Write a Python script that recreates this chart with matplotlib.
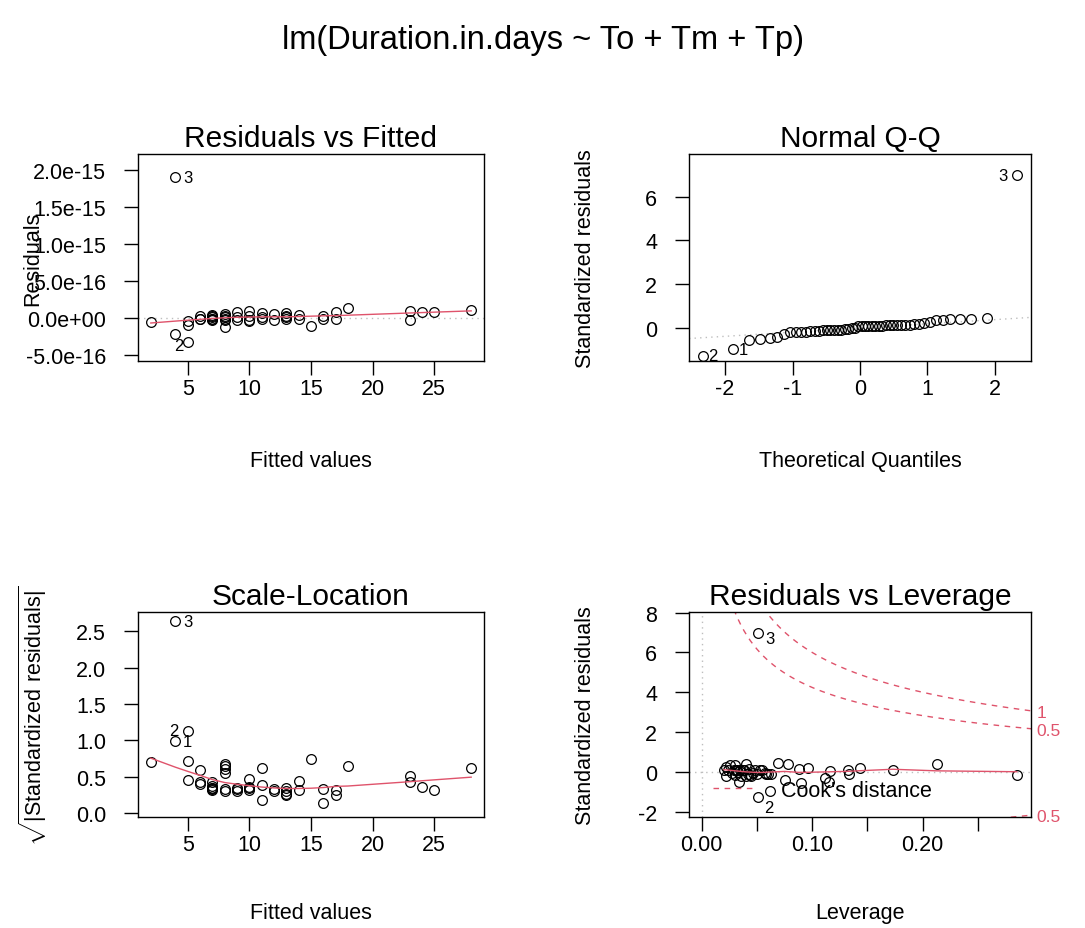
import numpy as np
import matplotlib
matplotlib.use("Agg")
from matplotlib import pyplot as plt
from matplotlib.lines import Line2D
from statistics import NormalDist

plt.rcParams["font.family"] = ["Liberation Sans", "DejaVu Sans"]
plt.rcParams["mathtext.fontset"] = "custom"
plt.rcParams["mathtext.rm"] = "Liberation Sans"
plt.rcParams["axes.unicode_minus"] = False

fitted = [4, 5, 4, 2, 5, 5, 6, 6, 6, 7,
          7, 7, 7, 7, 7, 8, 8, 8, 8, 8,
          8, 9, 9, 9, 10, 10, 10, 10, 11, 11,
          11, 12, 12, 13, 13, 13, 13, 14, 14, 15,
          16, 16, 17, 17, 18, 23, 23, 24, 25, 28]
resid_e16 = [-2.2, -3.2, 19.0, -0.6, -0.9, -0.4, 0.3, -0.1, -0.2, 0.4,
             -0.1, -0.3, 0.2, -0.2, 0.3, 0.5, -1.2, 0.3, -0.3, 0.1,
             -0.2, 0.8, -0.3, 0.2, 0.9, 0.3, -0.3, -0.4, 0.7, 0.2,
             -0.1, 0.5, -0.3, 0.7, 0.3, -0.2, 0.2, 0.4, -0.1, -1.1,
             0.3, -0.1, 0.8, -0.2, 1.4, 0.9, -0.3, 0.8, 0.8, 1.1]
std_resid = [-0.98, -1.28, 6.97, -0.49, -0.52, -0.20, 0.35, -0.16, -0.18, 0.12,
             -0.18, -0.14, 0.10, -0.12, 0.11, 0.46, -0.42, 0.36, -0.30, 0.09,
             -0.11, 0.12, -0.11, 0.09, 0.22, 0.12, -0.10, -0.13, 0.38, 0.15,
             -0.03, 0.09, -0.11, 0.12, 0.07, -0.06, 0.09, 0.19, -0.10, -0.56,
             0.11, -0.02, 0.10, -0.06, 0.41, 0.26, -0.18, 0.13, 0.10, 0.38]
leverage = [0.062, 0.051, 0.051, 0.034, 0.115, 0.040, 0.030, 0.285, 0.045, 0.055,
            0.022, 0.030, 0.038, 0.060, 0.048, 0.069, 0.075, 0.026, 0.112, 0.024,
            0.042, 0.035, 0.058, 0.020, 0.096, 0.032, 0.050, 0.044, 0.213, 0.088,
            0.027, 0.037, 0.063, 0.132, 0.116, 0.046, 0.053, 0.143, 0.133, 0.090,
            0.173, 0.033, 0.029, 0.057, 0.078, 0.022, 0.036, 0.043, 0.031, 0.040]
n_params = 4
cook_levels = [0.5, 1]

resid_ticks = [-5e-16, 0, 5e-16, 1e-15, 1.5e-15, 2e-15]
resid_labels = ["-5.0e-16", "0.0e+00", "5.0e-16", "1.0e-15", "1.5e-15", "2.0e-15"]

RED = "#DF536B"
GREY = "#BEBEBE"
PX = 0.72  # points per pixel at dpi 100
FS = 15.5


def lowess(x, y, f=2/3, iters=3):
    x = np.asarray(x, float)
    y = np.asarray(y, float)
    o = np.argsort(x, kind="stable")
    x, y = x[o], y[o]
    n = len(x)
    ns = max(min(int(np.floor(f * n + 1e-7)), n), 2)
    d = np.abs(x[:, None] - x[None, :])
    h = np.maximum(np.sort(d, axis=1)[:, ns - 1], 1e-12)
    w0 = (1 - np.clip(d / h[:, None], 0, 1) ** 3) ** 3
    rob = np.ones(n)
    fit = np.zeros(n)
    for _ in range(iters + 1):
        for i in range(n):
            w = w0[i] * rob
            sw = w.sum()
            xm = (w * x).sum() / sw
            ym = (w * y).sum() / sw
            sxx = (w * (x - xm) ** 2).sum()
            b = (w * (x - xm) * (y - ym)).sum() / sxx if sxx > 1e-12 else 0.0
            fit[i] = ym + b * (x[i] - xm)
        res = y - fit
        s = np.median(np.abs(res))
        if s == 0:
            break
        u = np.clip(res / (6 * s), -1, 1)
        rob = (1 - u ** 2) ** 2
    return x, fit


def points(ax, x, y):
    ax.plot(x, y, "o", mfc="none", mec="black", ms=7, mew=0.9, ls="none")


def idlab(ax, x, y, txt, dx, dy):
    ax.annotate(txt, (x, y), xytext=(dx * PX, dy * PX), textcoords="offset points",
                fontsize=12, ha="center", va="center")


def style(ax, title, xlab, ylab, ylab_x, xlab_y):
    ax.set_title(title, fontsize=21.5, pad=6)
    ax.set_xlabel(xlab, fontsize=FS)
    ax.set_ylabel(ylab, fontsize=FS)
    ax.xaxis.label.set_va("center")
    ax.yaxis.label.set_va("center")
    ax.xaxis.set_label_coords(0.5, xlab_y)
    ax.yaxis.set_label_coords(ylab_x, 0.5)
    ax.tick_params(axis="both", labelsize=FS, length=10, width=1, direction="out")
    ax.tick_params(axis="x", pad=2)
    ax.tick_params(axis="y", pad=13)
    for s in ax.spines.values():
        s.set_linewidth(1)


fitted = np.array(fitted, float)
resid = np.array(resid_e16) * 1e-16
std_resid = np.array(std_resid)
leverage = np.array(leverage)
n = len(fitted)

fig = plt.figure(figsize=(10.85, 9.29), dpi=100)
W, H = 1085, 929
ax1 = fig.add_axes([138 / W, 1 - 362 / H, 346 / W, 207 / H])
ax2 = fig.add_axes([689 / W, 1 - 362 / H, 342 / W, 207 / H])
ax3 = fig.add_axes([138 / W, 1 - 818 / H, 346 / W, 205 / H])
ax4 = fig.add_axes([689 / W, 1 - 818 / H, 342 / W, 205 / H])

fig.text(0.5, 1 - 40 / H, "lm(Duration.in.days ~ To + Tm + Tp)", ha="center", va="center", fontsize=23.5)

# Residuals vs Fitted
ax1.axhline(0, color=GREY, ls=(0, (1, 3)), lw=1)
points(ax1, fitted, resid)
lx, ly = lowess(fitted, resid)
ax1.plot(lx, ly, color=RED, lw=1)
ax1.set_xticks([5, 10, 15, 20, 25])
ax1.set_yticks(resid_ticks)
ax1.set_yticklabels(resid_labels)
ax1.set_xlim(0.96, 29.04)
ax1.set_ylim(-0.581e-15, 2.216e-15)
style(ax1, "Residuals vs Fitted", "Fitted values", "Residuals", -0.305, -0.483)
idlab(ax1, fitted[2], resid[2], "3", 12, 0)
idlab(ax1, fitted[1], resid[1], "2", -9, -4)

# Normal Q-Q
order = np.argsort(std_resid, kind="stable")
theo = np.array([NormalDist().inv_cdf((i + 0.5) / n) for i in range(n)])
sorted_std = std_resid[order]
q1, q3 = np.percentile(std_resid, [25, 75])
t1, t3 = NormalDist().inv_cdf(0.25), NormalDist().inv_cdf(0.75)
slope = (q3 - q1) / (t3 - t1)
ax2.axline((t1, q1), slope=slope, color=GREY, ls=(0, (1, 3)), lw=1)
points(ax2, theo, sorted_std)
ax2.set_xticks([-2, -1, 0, 1, 2])
ax2.set_yticks([0, 2, 4, 6])
ax2.set_xlim(-2.535, 2.535)
ax2.set_ylim(-1.52, 7.95)
style(ax2, "Normal Q-Q", "Theoretical Quantiles", "Standardized residuals", -0.304, -0.483)
rank = {obs: k for k, obs in enumerate(order)}
idlab(ax2, theo[rank[2]], sorted_std[rank[2]], "3", -14, 0)
idlab(ax2, theo[rank[1]], sorted_std[rank[1]], "2", 10, 0)
idlab(ax2, theo[rank[0]], sorted_std[rank[0]], "1", 10, 0)

# Scale-Location
sl = np.sqrt(np.abs(std_resid))
points(ax3, fitted, sl)
lx, ly = lowess(fitted, sl)
ax3.plot(lx, ly, color=RED, lw=1)
ax3.set_xticks([5, 10, 15, 20, 25])
ax3.set_yticks([0, 0.5, 1.0, 1.5, 2.0, 2.5])
ax3.set_yticklabels(["0.0", "0.5", "1.0", "1.5", "2.0", "2.5"])
ax3.set_xlim(0.96, 29.04)
ax3.set_ylim(-0.055, 2.765)
style(ax3, "Scale-Location", "Fitted values", r"$\sqrt{|\mathrm{Standardized\ residuals}|}$",
      -0.305, -0.468)
idlab(ax3, fitted[2], sl[2], "3", 12, 0)
idlab(ax3, fitted[0], sl[0], "1", 12, 0)
idlab(ax3, fitted[1], sl[1], "2", -14, 0)

# Residuals vs Leverage
ax4.axhline(0, color=GREY, ls=(0, (1, 3)), lw=1)
ax4.axvline(0, color=GREY, ls=(0, (1, 3)), lw=1)
points(ax4, leverage, std_resid)
lx, ly = lowess(leverage, std_resid)
ax4.plot(lx, ly, color=RED, lw=1)
xr = (-0.0115, 0.298)
yr = (-2.26, 8.03)
hh = np.linspace(min(leverage.min(), leverage.max() / 100), xr[1], 101)
for crit in cook_levels:
    cl = np.sqrt(crit * n_params * (1 - hh) / hh)
    ax4.plot(hh, cl, color=RED, ls=(0, (4, 4)), lw=1)
    ax4.plot(hh, -cl, color=RED, ls=(0, (4, 4)), lw=1)
ax4.legend(handles=[Line2D([], [], color=RED, ls=(0, (4, 4)), lw=1)], labels=["Cook's distance"],
           loc="center left", bbox_to_anchor=(0.07, 0.13), frameon=False, fontsize=FS,
           handlelength=1.85, handletextpad=1.3, borderpad=0, borderaxespad=0)
ax4.set_xticks([0, 0.05, 0.10, 0.15, 0.20, 0.25])
ax4.set_xticklabels(["0.00", "", "0.10", "", "0.20", ""])
ax4.set_yticks([-2, 0, 2, 4, 6, 8])
ax4.set_xlim(*xr)
ax4.set_ylim(*yr)
style(ax4, "Residuals vs Leverage", "Leverage", "Standardized residuals", -0.304, -0.468)
idlab(ax4, leverage[2], std_resid[2], "3", 12, -5)
idlab(ax4, leverage[1], std_resid[1], "2", 11, -10)

ymult = np.sqrt(n_params * (1 - xr[1]) / xr[1])
aty = np.sqrt(cook_levels) * ymult
axr = ax4.twinx()
axr.set_yticks(list(-aty[::-1]) + list(aty))
axr.set_yticklabels([str(c) for c in cook_levels[::-1]] + [str(c) for c in cook_levels])
axr.set_ylim(*yr)
axr.tick_params(axis="y", length=0, labelcolor=RED, labelsize=12.5, pad=4)
for s in axr.spines.values():
    s.set_visible(False)

fig.savefig("out.png", dpi=100)
